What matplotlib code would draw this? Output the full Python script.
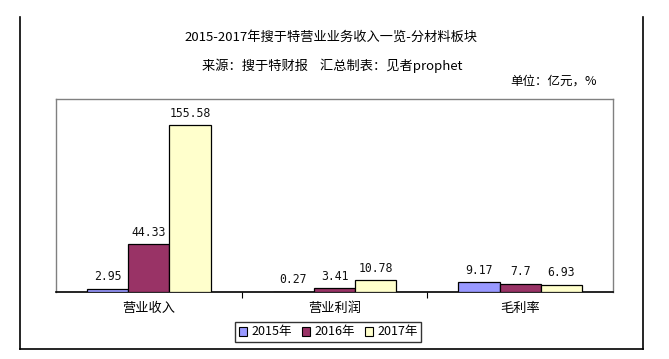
import matplotlib
matplotlib.use("Agg")
import matplotlib.pyplot as plt
from matplotlib.patches import Patch
from matplotlib.lines import Line2D
import numpy as np

plt.rcParams['font.family'] = ['Noto Sans CJK SC', 'DejaVu Sans']

categories = ["营业收入", "营业利润", "毛利率"]
series_names = ["2015年", "2016年", "2017年"]
v2015 = [2.95, 0.27, 9.17]
v2016 = [44.33, 3.41, 7.7]
v2017 = [155.58, 10.78, 6.93]
labels2015 = ["2.95", "0.27", "9.17"]
labels2016 = ["44.33", "3.41", "7.7"]
labels2017 = ["155.58", "10.78", "6.93"]

colors = ["#9999FF", "#993366", "#FFFFCC"]

W, H = 669, 359
fig = plt.figure(figsize=(W / 100, H / 100), dpi=100)

def fx(px):
    return px / W

def fy(py):
    return 1 - py / H

ax = fig.add_axes([fx(56), fy(292), fx(613) - fx(56), fy(99) - fy(292)])

x = np.arange(len(categories))
bw = 0.222
offsets = [-bw, 0, bw]
all_vals = [v2015, v2016, v2017]
all_labels = [labels2015, labels2016, labels2017]
for vals, labs, off, c in zip(all_vals, all_labels, offsets, colors):
    bars = ax.bar(x + off, vals, width=bw, color=c, edgecolor="black", linewidth=0.9, zorder=3)
    for b, lab in zip(bars, labs):
        ax.annotate(lab, (b.get_x() + b.get_width() / 2, b.get_height()),
                    xytext=(0, 4), textcoords="offset points", ha="center", va="bottom",
                    fontsize=8.3, family="DejaVu Sans Mono", color="#111111")

ax.set_xlim(-0.5, 2.5)
ax.set_ylim(0, 180)
ax.set_yticks([])
ax.set_xticks(x)
ax.set_xticklabels(categories, fontsize=9.5)
ax.tick_params(axis="x", which="major", length=0, pad=7)
ax.set_xticks([0.5, 1.5], minor=True)
ax.tick_params(axis="x", which="minor", length=4, width=0.8, direction="out", color="black")

for s in ["left", "top", "right"]:
    ax.spines[s].set_color("#808080")
    ax.spines[s].set_linewidth(1.0)
ax.spines["bottom"].set_color("black")
ax.spines["bottom"].set_linewidth(1.2)

# titles
fig.text(fx(331), fy(37), "2015-2017年搜于特营业业务收入一览-分材料板块", ha="center", va="center", fontsize=9.5)
fig.text(fx(332), fy(66), "来源：搜于特财报    汇总制表：见者prophet", ha="center", va="center", fontsize=9.5)
fig.text(fx(597), fy(81), "单位：亿元，%", ha="right", va="center", fontsize=9)

# legend
handles = [Patch(facecolor=c, edgecolor="black", linewidth=0.8) for c in colors]
leg = fig.legend(handles, series_names, loc="center", bbox_to_anchor=(fx(328), fy(332)),
                 ncol=3, fontsize=9, frameon=True, fancybox=False, handlelength=0.7,
                 handleheight=0.7, handletextpad=0.3, columnspacing=0.8, borderpad=0.25,
                 borderaxespad=0)
leg.get_frame().set_edgecolor("black")
leg.get_frame().set_linewidth(1.0)

# outer chart border
lc = "black"
fig.add_artist(Line2D([fx(19.5), fx(19.5)], [fy(17), fy(349)], color=lc, lw=1.2))
fig.add_artist(Line2D([fx(643), fx(643)], [fy(17), fy(349)], color=lc, lw=1.2))
fig.add_artist(Line2D([fx(19.5), fx(643)], [fy(349), fy(349)], color=lc, lw=1.2))

fig.savefig("out.png", dpi=100)
